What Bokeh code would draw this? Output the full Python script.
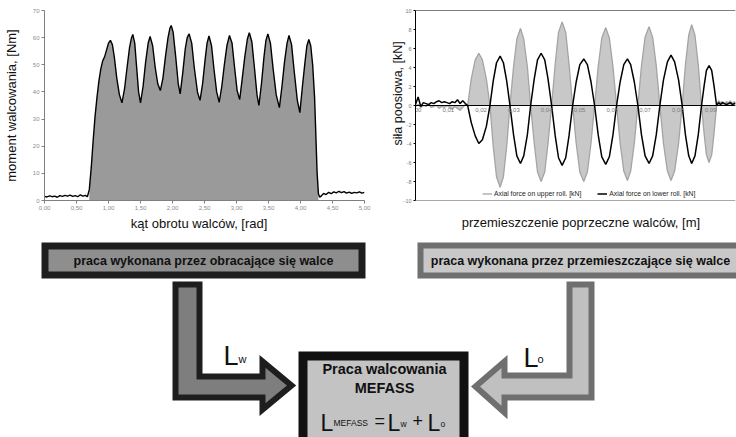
from bokeh.plotting import figure
from bokeh.models import Range1d, FixedTicker, Span, Legend, LegendItem
from bokeh.layouts import column, row
from bokeh.embed import file_html
from bokeh.resources import INLINE
from bokeh.core.properties import value

FONT = "Liberation Sans"
NBSP = "\u00a0"

# ---------------- left chart: rolling torque ----------------
MW_X = [0.00, 0.04, 0.08, 0.12, 0.16, 0.20, 0.24, 0.28, 0.32, 0.36, 0.40, 0.44, 0.48, 0.52, 0.56, 0.60, 0.64, 0.67,
        0.70, 0.73, 0.76, 0.79, 0.82, 0.85, 0.88, 0.91, 0.94, 0.97, 1.00, 1.03, 1.06, 1.09, 1.13, 1.17, 1.21,
        1.25, 1.29, 1.33, 1.36, 1.38, 1.41, 1.44, 1.47, 1.50,
        1.54, 1.58, 1.62, 1.65, 1.69, 1.73, 1.77, 1.81,
        1.85, 1.89, 1.93, 1.96, 1.98, 2.01, 2.05, 2.09, 2.12,
        2.16, 2.20, 2.23, 2.26, 2.30, 2.34, 2.39, 2.43,
        2.47, 2.51, 2.54, 2.57, 2.61, 2.65, 2.69, 2.73,
        2.77, 2.81, 2.85, 2.89, 2.93, 2.97, 3.01, 3.05,
        3.09, 3.13, 3.17, 3.20, 3.24, 3.28, 3.32, 3.35,
        3.39, 3.43, 3.46, 3.49, 3.53, 3.57, 3.62, 3.67,
        3.71, 3.75, 3.79, 3.82, 3.86, 3.90, 3.95, 3.99,
        4.03, 4.07, 4.10, 4.13, 4.16, 4.19, 4.22, 4.24, 4.26, 4.28, 4.30,
        4.33, 4.36, 4.40, 4.44, 4.48, 4.52, 4.56, 4.60, 4.64, 4.68, 4.72, 4.76, 4.80, 4.84, 4.88, 4.92, 4.96, 5.00]
MW_Y = [1.5, 1.3, 1.7, 1.4, 1.6, 1.2, 1.8, 1.5, 1.9, 1.6, 2.0, 1.5, 1.8, 1.4, 2.1, 1.6, 1.9, 1.4,
        4.0, 12.0, 22.0, 31.0, 38.0, 44.0, 48.5, 51.5, 53.0, 55.5, 58.0, 59.0, 57.5, 53.0, 45.0, 39.0, 36.0,
        41.0, 49.0, 56.5, 60.0, 61.2, 58.0, 49.0, 40.0, 36.0,
        42.0, 51.0, 58.0, 60.4, 57.0, 49.0, 43.0, 40.5,
        45.0, 53.0, 60.0, 63.5, 64.5, 62.0, 53.0, 43.0, 39.3,
        47.0, 56.0, 60.0, 61.4, 58.0, 49.0, 40.0, 36.9,
        43.0, 52.0, 58.0, 60.6, 57.0, 48.0, 40.0, 36.2,
        42.0, 50.0, 57.0, 60.8, 58.0, 49.0, 40.5, 37.2,
        45.0, 53.0, 59.5, 61.8, 58.5, 49.0, 39.0, 35.0,
        43.0, 53.0, 59.0, 61.4, 58.0, 49.0, 39.0, 34.2,
        42.0, 51.0, 58.0, 60.8, 57.5, 48.0, 37.0, 32.4,
        42.0, 51.0, 57.0, 59.3, 57.0, 50.0, 38.0, 24.0, 10.0, 2.5, 1.2,
        1.8, 2.6, 2.2, 3.0, 2.5, 3.2, 2.8, 3.4, 2.9, 3.3, 2.7, 3.1, 2.6, 3.0, 2.8, 3.2, 2.7, 3.0]
MW_FILL_FROM = 0.70
MW_FILL_TO = 4.28
LEFT_XTICKS = [0.0, 0.5, 1.0, 1.5, 2.0, 2.5, 3.0, 3.5, 4.0, 4.5, 5.0]
LEFT_XLABELS = ["0,00", "0,50", "1,00", "1,50", "2,00", "2,50", "3,00", "3,50", "4,00", "4,50", "5,00"]
LEFT_YTICKS = [0, 10, 20, 30, 40, 50, 60, 70]

# ---------------- right chart: axial forces ----------------
AX_X = [0.0000, 0.0008, 0.0016, 0.0024, 0.0032, 0.0040, 0.0048, 0.0056, 0.0064, 0.0072,
        0.0080, 0.0088, 0.0096, 0.0104, 0.0112, 0.0120, 0.0128, 0.0136, 0.0144, 0.0152,
        0.0159, 0.0170, 0.0182, 0.0193, 0.0204, 0.0216,
        0.0227, 0.0237, 0.0247, 0.0258, 0.0268, 0.0278,
        0.0288, 0.0299, 0.0309, 0.0320, 0.0330, 0.0341,
        0.0351, 0.0362, 0.0372, 0.0383, 0.0394, 0.0404,
        0.0415, 0.0426, 0.0436, 0.0447, 0.0458, 0.0468,
        0.0479, 0.0490, 0.0501, 0.0513, 0.0524, 0.0535,
        0.0546, 0.0557, 0.0568, 0.0580, 0.0591, 0.0602,
        0.0613, 0.0624, 0.0635, 0.0646, 0.0656, 0.0667,
        0.0678, 0.0689, 0.0700, 0.0712, 0.0723, 0.0734,
        0.0745, 0.0756, 0.0768, 0.0779, 0.0790, 0.0802,
        0.0813, 0.0823, 0.0833, 0.0842, 0.0852, 0.0862,
        0.0872, 0.0880, 0.0887, 0.0895, 0.0903, 0.0910, 0.0918,
        0.0924, 0.0930, 0.0936, 0.0942, 0.0948, 0.0954, 0.0960, 0.0966, 0.0972, 0.0976]
AX_UPPER = [-0.1, 0.1, -0.2, 0.0, -0.1, 0.1, -0.2, -0.1, 0.0, -0.3, -0.1, -0.2, 0.0, -0.2, -0.4, -0.1, -0.3, -0.5, -0.2, 0.1,
            0.0, 2.8, 4.8, 5.5, 4.8, 2.8,
            0.0, -4.3, -7.5, -8.6, -7.5, -4.3,
            0.0, 4.1, 7.0, 8.1, 7.0, 4.1,
            0.0, -4.0, -7.0, -8.0, -7.0, -4.0,
            0.0, 4.4, 7.7, 8.8, 7.7, 4.4,
            0.0, -4.0, -7.0, -8.0, -7.0, -4.0,
            0.0, 4.1, 7.1, 8.2, 7.1, 4.1,
            0.0, -4.0, -6.9, -7.9, -6.9, -4.0,
            0.0, 4.2, 7.2, 8.3, 7.2, 4.2,
            0.0, -4.0, -6.9, -7.9, -6.9, -4.0,
            0.0, 4.3, 7.4, 8.5, 7.4, 4.3,
            0.0, -3.0, -5.2, -6.0, -5.2, -3.0, 0.0,
            0.5, 0.3, 0.4, 0.2, 0.4, 0.3, 0.5, 0.2, 0.4, 0.3]
AX_LOWER = [0.1, 0.9, -0.1, 0.3, 0.2, 0.1, 0.3, 0.2, 0.4, 0.5, 0.3, 0.4, 0.3, 0.2, 0.4, 0.3, 0.6, 0.2, 0.5, 0.2,
            0.0, -1.8, -3.2, -4.0, -3.6, -2.2,
            0.0, 2.6, 4.5, 5.2, 4.5, 2.6,
            0.0, -3.1, -5.3, -6.1, -5.3, -3.1,
            0.0, 2.8, 4.8, 5.5, 4.8, 2.8,
            0.0, -3.2, -5.5, -6.3, -5.5, -3.2,
            0.0, 2.5, 4.3, 4.9, 4.3, 2.5,
            0.0, -3.1, -5.4, -6.2, -5.4, -3.1,
            0.0, 2.5, 4.3, 4.9, 4.3, 2.5,
            0.0, -3.1, -5.3, -6.1, -5.3, -3.1,
            0.0, 2.7, 4.6, 5.3, 4.6, 2.7,
            0.0, -3.1, -5.3, -6.1, -5.3, -3.1,
            0.0, 2.1, 3.7, 4.2, 3.7, 2.1, 0.0,
            0.3, 0.1, 0.3, 0.2, 0.1, 0.2, 0.3, 0.1, 0.2, 0.2]
RIGHT_XTICKS = [0.00, 0.01, 0.02, 0.03, 0.04, 0.05, 0.06, 0.07, 0.08, 0.09]
RIGHT_XLABELS = ["0,00", "0,01", "0,02", "0,03", "0,04", "0,05", "0,06", "0,07", "0,08", "0,09"]
RIGHT_YTICKS = [-10, -8, -6, -4, -2, 0, 2, 4, 6, 8, 10]
RIGHT_YLABELS = ["-10", "-8", "-6", "-4", "-2", "0", "2", "4", "6", "8", "10"]
LEGEND_LABELS = ["Axial force on upper roll. [kN]", "Axial force on lower roll. [kN]"]

# ---------------- diagram texts ----------------
TXT_LEFT_BOX = "praca wykonana przez obracające się walce"
TXT_RIGHT_BOX = "praca wykonana przez przemieszczające się walce"
TXT_CENTER = ["Praca walcowania", "MEFASS"]

# ================= left figure =================
p1 = figure(width=385, height=238, x_range=Range1d(0, 5), y_range=Range1d(0, 70),
            output_backend="svg", toolbar_location=None,
            min_border_left=44, min_border_right=21, min_border_top=10, min_border_bottom=38)
p1.outline_line_color = None
p1.xgrid.visible = False
p1.ygrid.ticker = FixedTicker(ticks=[70])
p1.ygrid.grid_line_color = "#b4b4b4"

fx = [x for x in MW_X if MW_FILL_FROM <= x <= MW_FILL_TO]
fy = [y for x, y in zip(MW_X, MW_Y) if MW_FILL_FROM <= x <= MW_FILL_TO]
p1.varea(x=fx, y1=[0] * len(fx), y2=fy, fill_color="#9a9a9a")
p1.line(MW_X, MW_Y, line_color="black", line_width=1.4)

p1.xaxis.ticker = FixedTicker(ticks=LEFT_XTICKS)
p1.xaxis.major_label_overrides = {t: l for t, l in zip(LEFT_XTICKS, LEFT_XLABELS)}
p1.yaxis.ticker = FixedTicker(ticks=LEFT_YTICKS)
for ax in (p1.xaxis[0], p1.yaxis[0]):
    ax.axis_line_color = "#7f7f7f"
    ax.major_tick_line_color = "#7f7f7f"
    ax.major_tick_out = 3
    ax.major_tick_in = 0
    ax.minor_tick_line_color = None
    ax.major_label_text_font_size = "6px"
    ax.major_label_text_color = "#8c8c8c"
    ax.major_label_text_font = FONT
    ax.major_label_standoff = 2
    ax.axis_label_text_font = FONT
    ax.axis_label_text_font_style = "normal"
    ax.axis_label_text_font_size = "13px"
    ax.axis_label_text_color = "#111111"
p1.xaxis.axis_label = "kąt obrotu walców, [rad]" + NBSP * 3
p1.xaxis.axis_label_standoff = 3
p1.yaxis.axis_label = "moment walcowania, [Nm]"
p1.yaxis.axis_label_standoff = 11

# ================= right figure =================
p2 = figure(width=351, height=238, x_range=Range1d(0, 0.09756), y_range=Range1d(-10, 10),
            output_backend="svg", toolbar_location=None,
            min_border_left=30, min_border_right=1, min_border_top=10, min_border_bottom=38)
p2.outline_line_color = None
p2.grid.visible = False

p2.varea(x=AX_X, y1=[0] * len(AX_X), y2=AX_UPPER, fill_color="#c8c8c8")
r_up = p2.line(AX_X, AX_UPPER, line_color="#a4a4a4", line_width=1.3)
p2.add_layout(Span(location=0, dimension="width", line_color="black", line_width=1))
p2.add_layout(Span(location=10, dimension="width", line_color="black", line_width=1))
p2.add_layout(Span(location=-10, dimension="width", line_color="#555555", line_width=1))
r_lo = p2.line(AX_X, AX_LOWER, line_color="black", line_width=1.5)

p2.text(x=RIGHT_XTICKS, y=[0] * len(RIGHT_XTICKS), text=RIGHT_XLABELS, y_offset=2,
        text_align="center", text_baseline="top", text_font=value(FONT),
        text_font_size="6px", text_color="#7a7a7a")

xa = p2.xaxis[0]
xa.ticker = FixedTicker(ticks=[])
xa.axis_line_color = None
xa.major_tick_line_color = None
xa.minor_tick_line_color = None
xa.major_tick_out = 0
xa.major_tick_in = 0
xa.axis_label = NBSP * 3 + "przemieszczenie poprzeczne walców, [m]"
xa.axis_label_standoff = 14

ya = p2.yaxis[0]
ya.ticker = FixedTicker(ticks=RIGHT_YTICKS)
ya.major_label_overrides = {t: l for t, l in zip(RIGHT_YTICKS, RIGHT_YLABELS)}
ya.axis_line_color = "black"
ya.major_tick_line_color = "black"
ya.major_tick_out = 2
ya.major_tick_in = 0
ya.minor_tick_line_color = None
ya.major_label_text_font_size = "5.5px"
ya.major_label_text_color = "#7a7a7a"
ya.major_label_text_font = FONT
ya.major_label_standoff = 2
ya.axis_label = NBSP * 7 + "siła poosiowa, [kN]"
ya.axis_label_standoff = -4
for ax in (xa, ya):
    ax.axis_label_text_font = FONT
    ax.axis_label_text_font_style = "normal"
    ax.axis_label_text_color = "#111111"
xa.axis_label_text_font_size = "13px"
ya.axis_label_text_font_size = "12.5px"

legend = Legend(items=[LegendItem(label=LEGEND_LABELS[0], renderers=[r_up]),
                       LegendItem(label=LEGEND_LABELS[1], renderers=[r_lo])],
                location=(67, 3), orientation="horizontal", border_line_color=None,
                background_fill_alpha=0, padding=0, margin=0, spacing=16, label_standoff=2,
                glyph_width=10, glyph_height=7, label_height=7,
                label_text_font_size="6.8px", label_text_font=FONT, label_text_color="#222")
p2.add_layout(legend)

# ================= diagram =================
p3 = figure(width=736, height=199, x_range=Range1d(0, 736), y_range=Range1d(437, 238),
            output_backend="svg", toolbar_location=None, x_axis_location=None, y_axis_location=None,
            min_border=0)
p3.outline_line_color = None
p3.grid.visible = False

# boxes: outer [x0, x1, y0, y1], border width, border colour, fill colour
BOXES = [([41, 365, 242, 278], 7, "#1e1e1e", "#8e8e8e"),
         ([417, 745, 242, 278], 6, "#6f6f6f", "#c8c8c8"),
         ([298, 468, 351, 450], 9, "#111111", "#c3c3c3")]
for (x0, x1, y0, y1), bw, bc, fc in BOXES:
    p3.quad(left=[x0], right=[x1], top=[y0], bottom=[y1], fill_color=bc, line_color=None)
    p3.quad(left=[x0 + bw], right=[x1 - bw], top=[y0 + bw], bottom=[y1 - bw], fill_color=fc, line_color=None)

ARROW_L_X = [175, 199, 199, 262, 262, 291, 262, 262, 175]
ARROW_L_Y = [284, 284, 376, 376, 361, 385, 409, 397, 397]
ARROW_R_X = [569, 591, 591, 504, 504, 475, 504, 504, 569]
ARROW_R_Y = [284, 284, 397, 397, 412, 386, 361, 375, 375]
p3.patch(ARROW_L_X, ARROW_L_Y, fill_color="#7e7e7e", line_color="#1e1e1e", line_width=6, line_join="miter")
p3.patch(ARROW_R_X, ARROW_R_Y, fill_color="#c0c0c0", line_color="#6f6f6f", line_width=6, line_join="miter")

p3.text(x=[203, 580], y=[260, 260], text=[TXT_LEFT_BOX, TXT_RIGHT_BOX], text_align="center",
        text_baseline="middle", text_font=value(FONT), text_font_style="bold",
        text_font_size="12.5px", text_color="#111")
p3.text(x=[384, 384], y=[368, 387], text=TXT_CENTER, text_align="center", text_baseline="middle",
        text_font=value(FONT), text_font_style="bold", text_font_size="14.5px", text_color="#111")

# big L symbols with subscripts
p3.text(x=[223, 523], y=[355, 357], text=["L", "L"], text_align="left", text_baseline="alphabetic",
        text_font=value(FONT), text_font_size="27px", text_color="#111")
p3.text(x=[238, 537], y=[358, 358], text=["w", "o"], text_align="left", text_baseline="alphabetic",
        text_font=value(FONT), text_font_size="11px", text_color="#111")
p3.text(x=[320, 387, 427], y=[422, 422, 422], text=["L", "L", "L"], text_align="left",
        text_baseline="alphabetic", text_font=value(FONT), text_font_size="23px", text_color="#111")
p3.text(x=[333, 400, 440], y=[422, 423, 423], text=["MEFASS", "w", "o"], text_align="left",
        text_baseline="alphabetic", text_font=value(FONT), text_font_size="8.5px", text_color="#111")
p3.text(x=[374, 412], y=[420, 420], text=["=", "+"], text_align="left", text_baseline="alphabetic",
        text_font=value(FONT), text_font_size="18px", text_color="#111")

layout = column(row(p1, p2), p3)
open("out.html", "w").write(file_html(layout, INLINE))
